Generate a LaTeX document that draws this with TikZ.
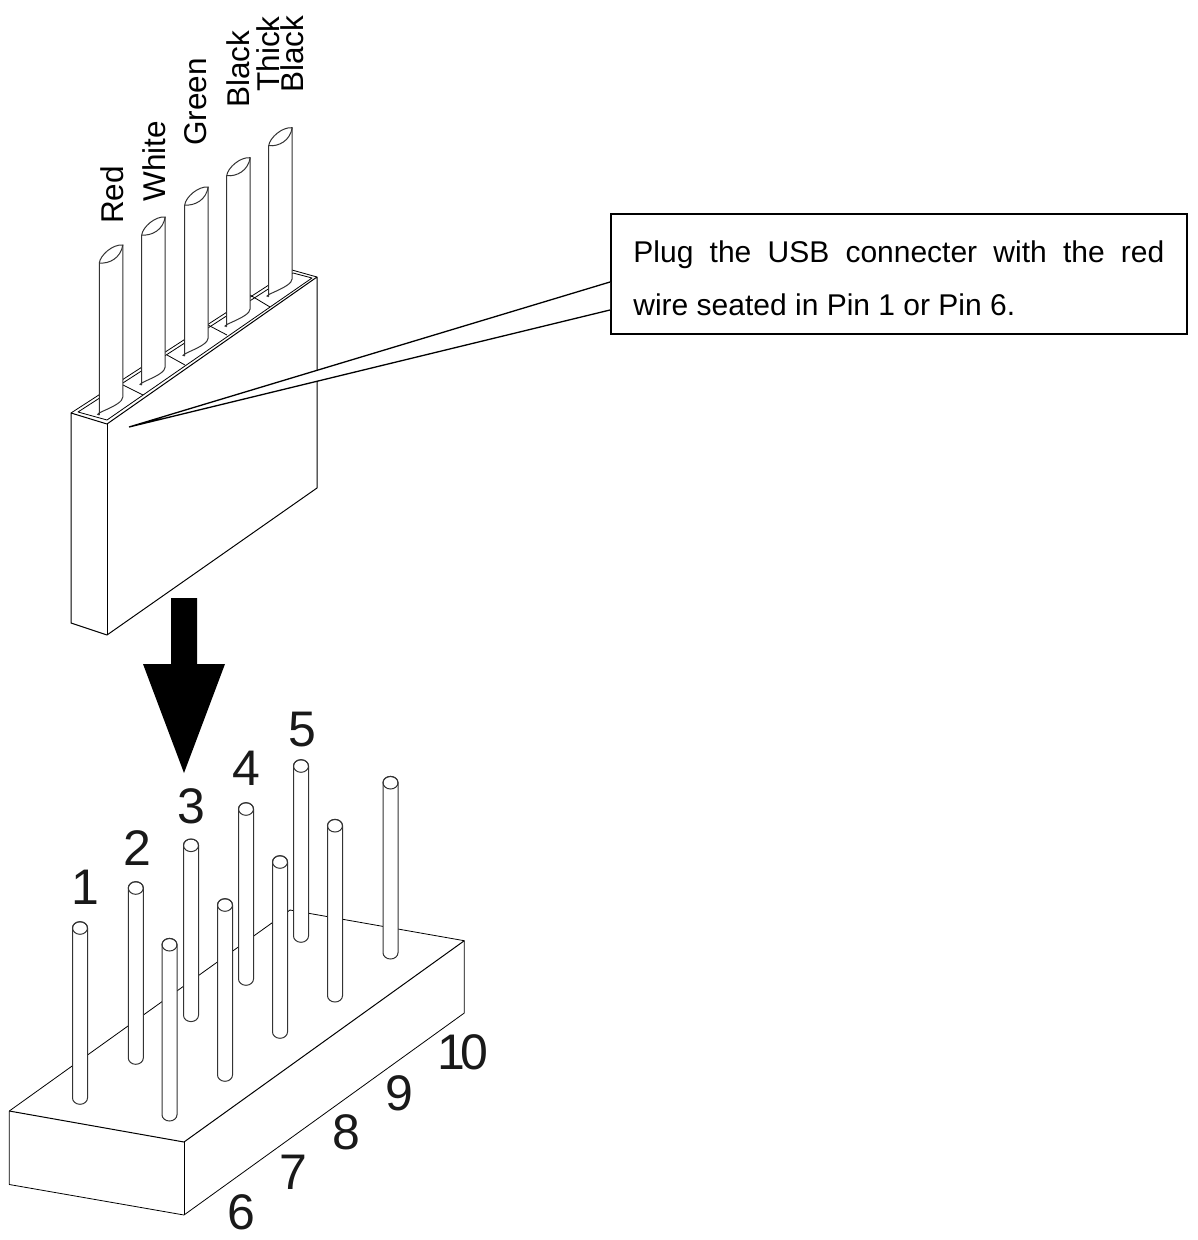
\documentclass[tikz,border=0pt]{standalone}
\usepackage{fontspec}
\setmainfont{Liberation Sans}
\usetikzlibrary{positioning}
\tikzset{
    outline/.style={draw=black, line width=1pt, line join=round},
    pin/.style={draw=black!80, line width=1pt, fill=white},
    wire/.style={draw=black!80, line width=1pt, fill=white},
    wirename/.style={rotate=90, font=\fontsize{31.5}{22}\selectfont, align=center, inner sep=0pt},
    pinnum/.style={font=\fontsize{50}{50}\selectfont, inner sep=0pt, text=black!90}
}
\begin{document}
\begin{tikzpicture}[x=1pt, y=-1pt]
        \useasboundingbox (0,0) rectangle (1198,1240);

        % Connector housing
        \draw[outline, line width=0.8pt] (71,413) -- (292,270) -- (317,277);
        \draw[outline] (71,413) -- (107,424) -- (317,277) -- (317,488) -- (107,635) -- (71,623) -- cycle;
        \draw[outline] (107,424) -- (107,635);
        \draw[outline, line width=0.8pt] (78,412) -- (293,273) -- (312,278) -- (107,420) -- cycle;
        \foreach \a/\b/\c/\d in {123/385/143/395, 167/355/185/365, 208/325/227/335, 250/295/270/307} {
            \draw[outline, line width=0.8pt] (\a,\b) -- (\c,\d);
        }

        % Wires
        \foreach \x/\t/\b in {99.3/263/415, 141.7/235/385, 184.7/205/356, 226.7/175.7/326.7, 268.7/145.7/296.7} {
            \draw[wire] (\x,\b) -- (\x,\t) .. controls +(1,-8) and +(-10,-1) .. (\x+23.5,\t-18)
                -- (\x+23.5,\b-18) .. controls +(0,9) and +(-9,-1) .. (\x,\b);
            \draw[wire, fill=none] (\x,\t) .. controls +(10,1) and +(-2,13) .. (\x+23.5,\t-18);
        }

        % Wire names
        \node[wirename] (red) at (112,195) {Red};
        \node[wirename] (white) at (154,161) {White};
        \node[wirename] (green) at (196,102) {Green};
        \node[wirename] (black) at (238,69) {Black};
        \node[wirename] (thick) at (280,54) {Thick\\Black};

        % Note and its leader
        \node[draw=black, line width=1.8pt, fill=white, anchor=north west, minimum width=576pt, minimum height=120pt] (note) at (610,213) {};
        \node[text width=531pt, align=justify, font=\fontsize{30}{53}\selectfont, inner sep=0pt] (notetext) at (note.center)
            [yshift=-4.5pt] {Plug the USB connecter with the red\linebreak wire seated in Pin 1 or Pin 6.};
        \coordinate (tip) at (129,427);
        \coordinate (ua) at (610,282);
        \coordinate (ub) at (610,310);
        \fill[white] (ua) -- (tip) -- (ub) -- cycle;
        \draw[line width=1.3pt, line join=miter] (ua) -- (tip) -- (ub);

        % Arrow
        \fill[black] (171,598) -- (197,598) -- (197,664) -- (225,664) -- (184,773) -- (143,664) -- (171,664) -- cycle;

        % Header base
        \draw[outline, line width=0.8pt] (9.3,1111) -- (290,910) -- (464.3,940.7);
        \draw[outline] (9.3,1111) -- (184,1142) -- (464.3,940.7);
        \draw[outline, line width=0.8pt] (9.3,1111) -- (9.3,1184.5) -- (184,1215) -- (464.3,1013) -- (464.3,940.7);
        \draw[outline] (184,1142) -- (184,1215);

        % Pins
        \foreach \x/\y in {80/928, 135.8/888, 191/845.3, 246/809, 301/766,
                           169.5/944.7, 225/905, 280/862, 335/825.7, 390.5/782.7} {
            \draw[pin] (\x-7.5,\y) -- (\x-7.5,\y+170) arc[start angle=180, end angle=0, x radius=7.5, y radius=6.3]
                -- (\x+7.5,\y) arc[start angle=0, end angle=-180, x radius=7.5, y radius=6.3];
            \draw[pin, fill=none] (\x,\y) ellipse[x radius=7.5, y radius=6.3];
        }

        % Pin numbers
        \foreach \i/\x/\y in {1/85/887, 2/137/848, 3/191/806, 4/246/768, 5/302/730,
                              6/241/1212, 7/293/1172, 8/346/1132, 9/399/1093} {
            \node[pinnum] (num\i) at (\x,\y) {\i};
        }
        \node[pinnum] (num10) at (463,1052) {1\kern-5pt 0};
    \end{tikzpicture}
\end{document}
